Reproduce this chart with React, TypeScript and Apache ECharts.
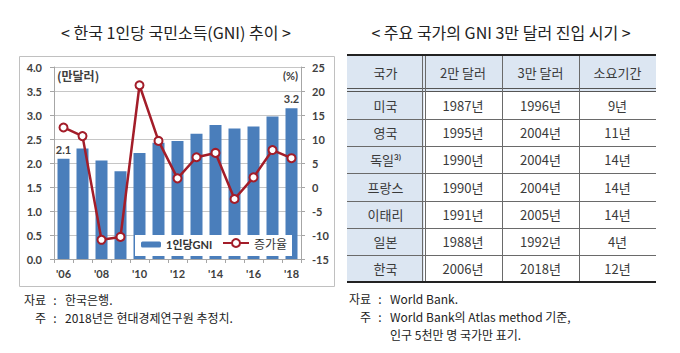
import React, { useEffect, useRef } from "react";
import * as echarts from "echarts";

// ---------- Data ----------
const years = ["'06", "'07", "'08", "'09", "'10", "'11", "'12", "'13", "'14", "'15", "'16", "'17", "'18"];
const gniValues = [2.09, 2.3, 2.05, 1.83, 2.21, 2.42, 2.46, 2.61, 2.79, 2.72, 2.76, 2.97, 3.14];
const growthRates = [12.4, 10.6, -11.0, -10.4, 21.2, 9.6, 1.8, 6.2, 7.1, -2.5, 2.0, 7.7, 6.0];
const barLabels = ["2.1", "", "", "", "", "", "", "", "", "", "", "", "3.2"];
const leftAxisRange = [0, 4, 0.5];
const rightAxisRange = [-15, 25, 5];

const tableHeader = ["국가", "2만 달러", "3만 달러", "소요기간"];
const countries = ["미국", "영국", "독일", "프랑스", "이태리", "일본", "한국"];
const countryNotes = ["", "", "3)", "", "", "", ""];
const year20k = ["1987년", "1995년", "1990년", "1990년", "1991년", "1988년", "2006년"];
const year30k = ["1996년", "2004년", "2004년", "2004년", "2005년", "1992년", "2018년"];
const durations = ["9년", "11년", "14년", "14년", "14년", "4년", "12년"];

const leftTitle = "< 한국 1인당 국민소득(GNI) 추이 >";
const rightTitle = "< 주요 국가의 GNI 3만 달러 진입 시기 >";
const leftNoteLabels = ["자료", "주"];
const leftNoteTexts = ["한국은행.", "2018년은 현대경제연구원 추정치."];
const rightNoteLabels = ["자료", "주", ""];
const rightNoteTexts = ["World Bank.", "World Bank의 Atlas method 기준,", "인구 5천만 명 국가만 표기."];

const KR = '"Noto Sans CJK KR", sans-serif';
const NUM = 'Lato, "Noto Sans CJK KR", sans-serif';

function buildNotes(labelRight: number, yFirst: number, lineH: number, labels: string[], texts: string[]) {
  const els: any[] = [];
  const font = `12px ${KR}`;
  texts.forEach((t, i) => {
    const y = yFirst + lineH * i;
    if (labels[i]) {
      els.push({ type: "text", x: labelRight, y, style: { text: labels[i], font, fill: "#222", align: "right", verticalAlign: "middle" } });
      els.push({ type: "text", x: labelRight + 9, y, style: { text: ":", font, fill: "#222", align: "center", verticalAlign: "middle" } });
    }
    els.push({ type: "text", x: labelRight + 19, y, style: { text: t, font, fill: "#222", align: "left", verticalAlign: "middle" } });
  });
  return els;
}

function buildTable(): any[] {
  const els: any[] = [];
  const colEdges = [347, 424, 502, 579, 656];
  const top = 55;
  const headBottom = 92;
  const bottom = 282;
  const rowH = (bottom - headBottom) / countries.length;
  const blue = "#dce6f2";
  els.push({ type: "rect", shape: { x: colEdges[0], y: top, width: colEdges[4] - colEdges[0], height: headBottom - top }, style: { fill: blue } });
  els.push({ type: "rect", shape: { x: colEdges[0], y: headBottom, width: colEdges[1] - colEdges[0], height: bottom - headBottom }, style: { fill: blue } });
  for (let i = 1; i < countries.length; i++) {
    const y = Math.round(headBottom + rowH * i) + 0.5;
    els.push({ type: "line", shape: { x1: colEdges[0], y1: y, x2: colEdges[4], y2: y }, style: { stroke: "#6a6a6a", lineWidth: 1 } });
  }
  els.push({ type: "line", shape: { x1: colEdges[0], y1: headBottom - 3.5, x2: colEdges[4], y2: headBottom - 3.5 }, style: { stroke: "#555", lineWidth: 1 } });
  els.push({ type: "line", shape: { x1: colEdges[0], y1: headBottom - 0.5, x2: colEdges[4], y2: headBottom - 0.5 }, style: { stroke: "#555", lineWidth: 1 } });
  els.push({ type: "line", shape: { x1: colEdges[1] - 1.5, y1: top, x2: colEdges[1] - 1.5, y2: bottom }, style: { stroke: "#6a6a6a", lineWidth: 1 } });
  els.push({ type: "line", shape: { x1: colEdges[1] + 1.5, y1: top, x2: colEdges[1] + 1.5, y2: bottom }, style: { stroke: "#6a6a6a", lineWidth: 1 } });
  els.push({ type: "line", shape: { x1: colEdges[2] + 0.5, y1: top, x2: colEdges[2] + 0.5, y2: bottom }, style: { stroke: "#6a6a6a", lineWidth: 1 } });
  els.push({ type: "line", shape: { x1: colEdges[3] + 0.5, y1: top, x2: colEdges[3] + 0.5, y2: bottom }, style: { stroke: "#6a6a6a", lineWidth: 1 } });
  els.push({ type: "line", shape: { x1: colEdges[0], y1: top, x2: colEdges[4], y2: top }, style: { stroke: "#222", lineWidth: 2 } });
  els.push({ type: "line", shape: { x1: colEdges[0], y1: bottom, x2: colEdges[4], y2: bottom }, style: { stroke: "#222", lineWidth: 2 } });
  tableHeader.forEach((h, c) => {
    els.push({
      type: "text",
      x: (colEdges[c] + colEdges[c + 1]) / 2,
      y: (top + headBottom - 3) / 2,
      style: { text: h, fill: "#3a3a3a", font: `13px ${KR}`, align: "center", verticalAlign: "middle" },
    });
  });
  const columns = [countries, year20k, year30k, durations];
  columns.forEach((col, c) => {
    col.forEach((val, r) => {
      const cx = (colEdges[c] + colEdges[c + 1]) / 2;
      const cy = headBottom + rowH * (r + 0.5);
      if (c === 0 && countryNotes[r]) {
        els.push({
          type: "text",
          x: cx,
          y: cy,
          style: {
            text: `{a|${val}}{s|${countryNotes[r]}}`,
            align: "center",
            verticalAlign: "middle",
            rich: {
              a: { font: `13px ${KR}`, fill: "#3a3a3a" },
              s: { font: `bold 8px ${NUM}`, fill: "#3a3a3a", verticalAlign: "top", padding: [0, 0, 6, 0] },
            },
          },
        });
      } else {
        els.push({
          type: "text",
          x: cx,
          y: cy,
          style: { text: val, fill: "#3a3a3a", font: `13px ${KR}`, align: "center", verticalAlign: "middle" },
        });
      }
    });
  });
  return els;
}

export default function App() {
  const ref = useRef<HTMLDivElement>(null);
  useEffect(() => {
    document.body.style.margin = "0";
    if (!ref.current) return;
    const chart = echarts.init(ref.current, null, { renderer: "svg" });
    const axisGrey = "#a6a6a6";
    const axisLabelStyle = { fontFamily: NUM, fontWeight: "bold" as const, fontSize: 11, color: "#404040" };
    const option: any = {
      animation: false,
      backgroundColor: "#fff",
      grid: { left: 54, top: 67, width: 247, height: 192 },
      xAxis: {
        type: "category",
        data: years,
        axisLine: { lineStyle: { color: axisGrey } },
        axisTick: { show: true, interval: 0, length: 4, lineStyle: { color: axisGrey } },
        axisLabel: { ...axisLabelStyle, interval: 1, margin: 9 },
      },
      yAxis: [
        {
          type: "value",
          min: leftAxisRange[0],
          max: leftAxisRange[1],
          interval: leftAxisRange[2],
          axisLine: { show: true, lineStyle: { color: axisGrey } },
          axisTick: { show: true, length: 4, lineStyle: { color: axisGrey } },
          axisLabel: { ...axisLabelStyle, margin: 12, formatter: (v: number) => v.toFixed(1) },
          splitLine: { show: true, lineStyle: { color: "#c6c6c6" } },
        },
        {
          type: "value",
          position: "right",
          min: rightAxisRange[0],
          max: rightAxisRange[1],
          interval: rightAxisRange[2],
          axisLine: { show: true, lineStyle: { color: axisGrey } },
          axisTick: { show: true, length: 4, lineStyle: { color: axisGrey } },
          axisLabel: { ...axisLabelStyle, margin: 11 },
          splitLine: { show: false },
        },
      ],
      legend: [
        {
          data: ["1인당GNI"],
          left: 141,
          top: 239,
          padding: 0,
          z: 20,
          itemWidth: 20,
          itemHeight: 6,
          itemGap: 0,
          textStyle: { fontFamily: NUM, fontWeight: "bold", fontSize: 11, color: "#333" },
        },
        {
          data: ["증가율"],
          left: 222,
          top: 237,
          padding: 0,
          z: 20,
          itemWidth: 26,
          itemHeight: 10,
          itemGap: 0,
          textStyle: { fontFamily: KR, fontSize: 12, color: "#333" },
        },
      ],
      series: [
        {
          name: "1인당GNI",
          type: "bar",
          data: gniValues,
          barWidth: 12,
          itemStyle: { color: "#4a7ebb" },
          label: {
            show: true,
            position: "top",
            distance: 4,
            formatter: (p: any) => barLabels[p.dataIndex],
            ...axisLabelStyle,
          },
        },
        {
          name: "증가율",
          type: "line",
          yAxisIndex: 1,
          data: growthRates,
          symbol: "emptyCircle",
          symbolSize: 8,
          z: 5,
          lineStyle: { color: "#a31d29", width: 2.5 },
          itemStyle: { color: "#a31d29", borderWidth: 1.6 },
        },
      ],
      graphic: [
        { type: "rect", z: -1, shape: { x: 19.5, y: 56.5, width: 315, height: 230 }, style: { fill: "none", stroke: "#c0c0c0", lineWidth: 1 } },
        { type: "rect", z: 10, shape: { x: 135, y: 235, width: 157, height: 21 }, style: { fill: "#fff" } },
        { type: "text", z: 10, x: 57, y: 75, style: { text: "(만달러)", font: `bold 12px ${KR}`, fill: "#404040", verticalAlign: "middle" } },
        { type: "text", z: 10, x: 298, y: 75, style: { text: "(%)", font: `bold 11px ${NUM}`, fill: "#404040", align: "right", verticalAlign: "middle" } },
        { type: "text", x: 176, y: 32, style: { text: leftTitle, font: `16px ${KR}`, fill: "#222", align: "center", verticalAlign: "middle" } },
        { type: "text", x: 501, y: 32, style: { text: rightTitle, font: `16px ${KR}`, fill: "#222", align: "center", verticalAlign: "middle" } },
        ...buildNotes(46, 299, 18, leftNoteLabels, leftNoteTexts),
        ...buildNotes(371, 298, 18, rightNoteLabels, rightNoteTexts),
        ...buildTable(),
      ],
    };
    chart.setOption(option);
    return () => chart.dispose();
  }, []);
  return <div ref={ref} style={{ width: 680, height: 353 }} />;
}
